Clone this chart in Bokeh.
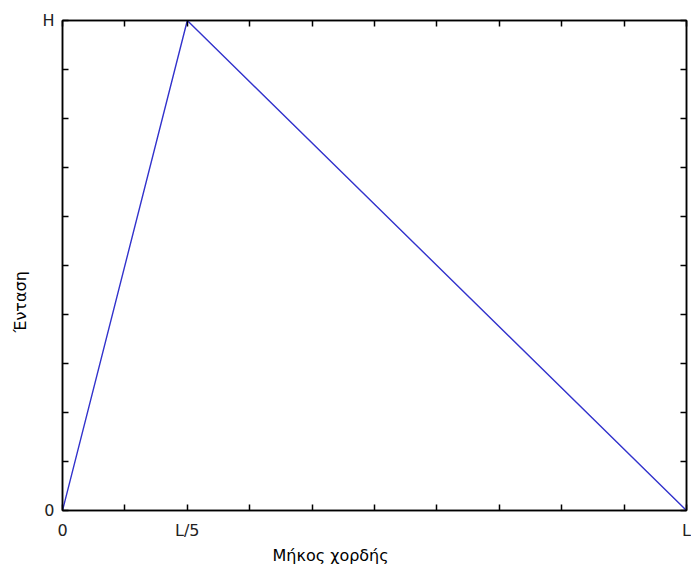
from bokeh.plotting import figure
from bokeh.models import FixedTicker, LinearAxis, Title, Range1d
from bokeh.embed import file_html
from bokeh.resources import INLINE

# Data: plucked string shape
string_pos = [0.0, 0.2, 1.0]      # position along string (fraction of L)
tension = [0.0, 1.0, 0.0]          # displacement (fraction of H)

x_major = [0.0, 0.2, 1.0]
x_labels = ["0", "L/5", "L"]
x_minor = [0.1, 0.3, 0.4, 0.5, 0.6, 0.7, 0.8, 0.9]
y_major = [0.0, 1.0]
y_labels = ["0", "H"]
y_minor = [0.1, 0.2, 0.3, 0.4, 0.5, 0.6, 0.7, 0.8, 0.9]

x_title = "Μήκος  χορδής"
y_title = "Ένταση"

FONT = "DejaVu Sans"

p = figure(width=691, height=564, output_backend="svg", toolbar_location=None,
           x_range=Range1d(0, 1), y_range=Range1d(0, 1),
           x_axis_location=None, y_axis_location=None,
           min_border_left=62, min_border_right=5, min_border_top=20, min_border_bottom=54)
p.frame_width = 624
p.frame_height = 490
p.grid.visible = False
p.outline_line_color = "black"
p.outline_line_width = 1.5
p.background_fill_color = "white"
p.border_fill_color = "white"


def make_axis(major, minor, labels, show_labels):
    ax = LinearAxis(ticker=FixedTicker(ticks=major, minor_ticks=minor))
    ax.major_tick_in = 6
    ax.major_tick_out = 0
    ax.minor_tick_in = 6
    ax.minor_tick_out = 0
    ax.major_tick_line_color = "black"
    ax.minor_tick_line_color = "black"
    ax.major_tick_line_width = 1.5
    ax.minor_tick_line_width = 1.5
    ax.axis_line_color = "black"
    ax.axis_line_width = 1.5
    if show_labels:
        ax.major_label_overrides = {float(t): l for t, l in zip(major, labels)}
        ax.major_label_text_font = FONT
        ax.major_label_text_font_size = "16px"
        ax.major_label_text_color = "#222222"
    else:
        ax.major_label_text_font_size = "0px"
        ax.major_label_text_alpha = 0
        ax.major_label_standoff = 0
    return ax

xb = make_axis(x_major, x_minor, x_labels, True)
xb.major_label_standoff = 10
p.add_layout(xb, "below")
yl = make_axis(y_major, y_minor, y_labels, True)
yl.major_label_standoff = 8
p.add_layout(yl, "left")
p.add_layout(make_axis(x_major, x_minor, x_labels, False), "above")
p.add_layout(make_axis(y_major, y_minor, y_labels, False), "right")

p.line(string_pos, tension, line_color="#3232cc", line_width=1.4)

p.add_layout(Title(text=x_title, align="left", offset=210, standoff=2,
                   text_font=FONT, text_font_size="16px", text_font_style="normal",
                   text_color="black"), "below")
p.add_layout(Title(text=y_title, align="left", offset=178, standoff=16,
                   vertical_align="top",
                   text_font=FONT, text_font_size="16px", text_font_style="normal",
                   text_color="black"), "left")

open("out.html", "w").write(file_html(p, INLINE))
